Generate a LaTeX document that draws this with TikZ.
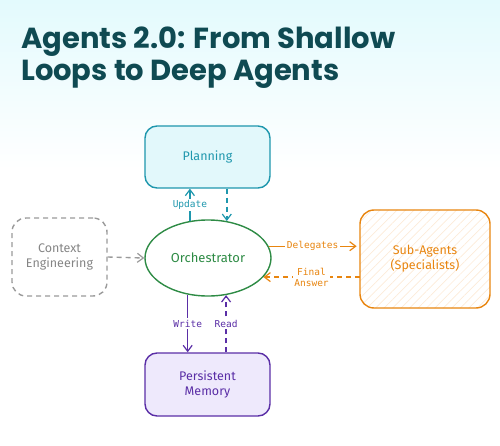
\documentclass[tikz,border=0pt]{standalone}
\usepackage{fontspec}
\setmainfont{Fira Sans}
\newfontfamily\titlefont{Poppins}
\newfontfamily\lblfont{DejaVu Sans Mono}
\usetikzlibrary{shapes.geometric,arrows.meta,patterns.meta}
\definecolor{titlec}{HTML}{0F4A52}
\definecolor{tealc}{HTML}{1E97AD}
\definecolor{tealf}{HTML}{E2F8FB}
\definecolor{greenc}{HTML}{2E8B45}
\definecolor{grayc}{HTML}{9A9A9A}
\definecolor{grayt}{HTML}{858585}
\definecolor{orangec}{HTML}{E8850F}
\definecolor{orangep}{HTML}{FCEBD8}
\definecolor{purplec}{HTML}{5A2EA6}
\definecolor{purplef}{HTML}{EEE9FC}
\definecolor{bgtop}{HTML}{E3FAFD}
\tikzset{
  boxbase/.style={rectangle, rounded corners=12pt, line width=1.4pt, align=center, font=\fontsize{12.5}{15}\selectfont},
  planbox/.style={boxbase, draw=tealc, fill=tealf, text=tealc, minimum width=125pt, minimum height=62pt},
  ctxbox/.style={boxbase, draw=grayc, dashed, dash pattern=on 5pt off 4pt, text=grayt, minimum width=95pt, minimum height=78pt, rounded corners=14pt},
  subbox/.style={boxbase, draw=orangec, text=orangec, minimum width=130pt, minimum height=98pt, rounded corners=14pt,
     pattern={Lines[angle=45,distance=6pt,line width=0.7pt]}, pattern color=orangep},
  membox/.style={boxbase, draw=purplec, fill=purplef, text=purplec, minimum width=125pt, minimum height=63pt},
  orchnode/.style={ellipse, draw=greenc, line width=1.4pt, text=greenc, minimum width=126pt, minimum height=76pt, inner sep=0pt, font=\fontsize{13}{15}\selectfont},
  conn/.style={line width=1.4pt, -{Straight Barb[length=6pt,width=9pt,line width=1.2pt]}},
  dconn/.style={conn, dash pattern=on 5pt off 4pt},
  lbl/.style={font=\lblfont\fontsize{9.5}{11}\selectfont, fill=white, inner sep=1.5pt, align=center},
}
\begin{document}
\begin{tikzpicture}[x=1pt,y=-1pt]
\useasboundingbox (0,0) rectangle (500,446);
\shade[top color=bgtop, bottom color=white] (0,0) rectangle (500,170);
\node[anchor=base west, text=titlec, font=\titlefont\bfseries\fontsize{29}{33}\selectfont, inner sep=0pt] (t1) at (21,49) {Agents 2.0: From Shallow};
\node[anchor=base west, text=titlec, font=\titlefont\bfseries\fontsize{29}{33}\selectfont, inner sep=0pt] (t2) at (21,81) {Loops to Deep Agents};

\node[planbox] (plan) at (207.5,157) {Planning};
\node[ctxbox] (ctx) at (59.5,257) {Context\\Engineering};
\node[subbox] (sub) at (425,259) {Sub-Agents\\(Specialists)};
\node[membox] (mem) at (207.5,384.5) {Persistent\\Memory};
\node[orchnode] (orch) at (208,258) {Orchestrator};

% Planning
\draw[conn, tealc] (orch.116) -- (orch.116 |- plan.south) node[midway, lbl, text=tealc] {Update};
\draw[dconn, tealc] (orch.63 |- plan.south) -- (orch.63);
% Context
\draw[dconn, grayc] (ctx.east) -- (orch.west);
% Sub agents
\draw[conn, orangec] (orch.11) -- ([xshift=-3pt]orch.11 -| sub.west) node[midway, lbl, text=orangec] {Delegates};
\draw[dconn, orangec] (orch.-19 -| sub.west) -- (orch.-19) node[midway, lbl, text=orangec] {Final\\Answer};
% Memory
\draw[conn, purplec] (orch.-119) -- (orch.-119 |- mem.north) node[midway, lbl, text=purplec] {Write};
\draw[dconn, purplec] (orch.-64 |- mem.north) -- (orch.-64) node[midway, lbl, text=purplec] {Read};
\end{tikzpicture}
\end{document}
